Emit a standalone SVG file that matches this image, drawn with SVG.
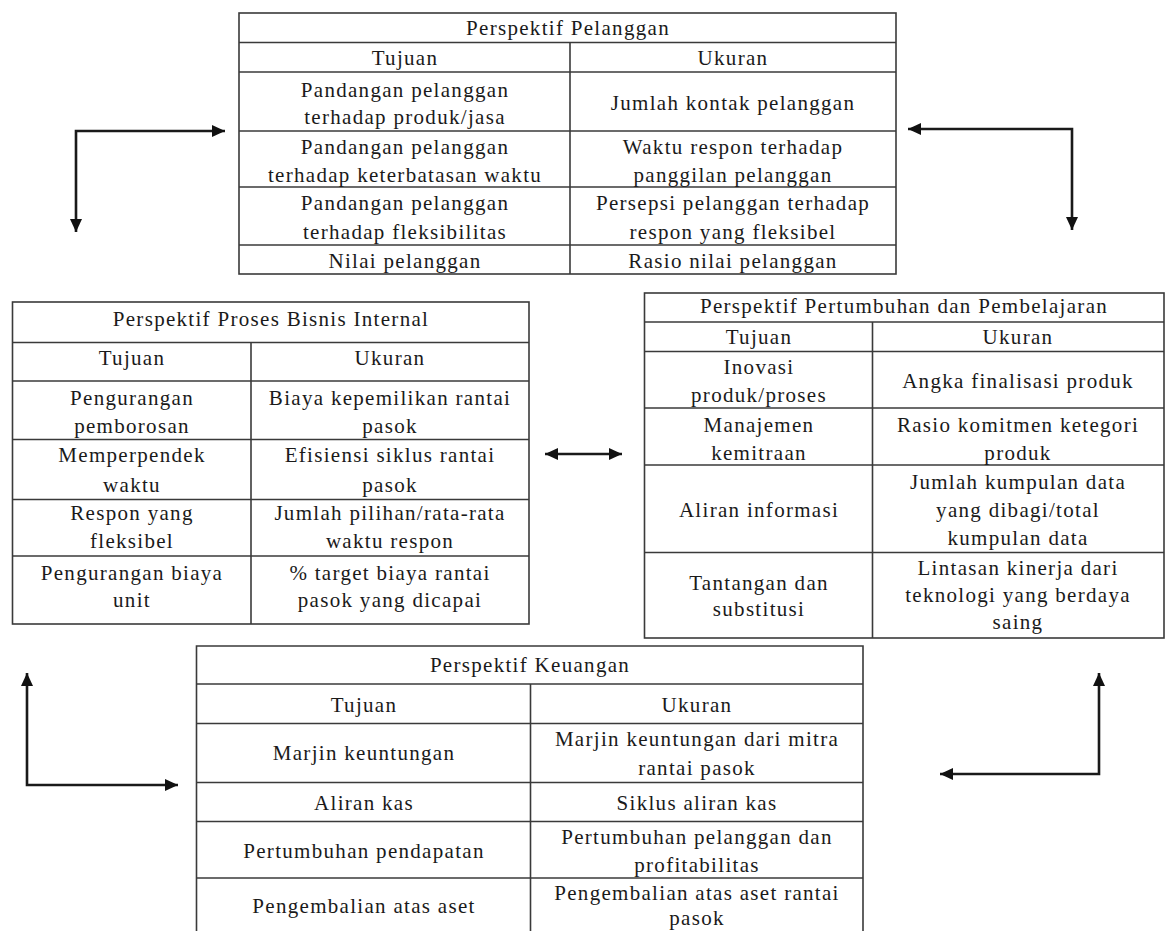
<svg xmlns="http://www.w3.org/2000/svg" width="1167" height="931" viewBox="0 0 1167 931">
<style>
.bg{fill:#ffffff}
.tb{fill:none;stroke:#3a3a3a;stroke-width:1.6}
.ln{stroke:#3a3a3a;stroke-width:1.6}
text{font-family:"Liberation Serif","Times New Roman",serif;font-size:21px;fill:#1a1a1a;text-anchor:middle;letter-spacing:1.3px}
.cn{fill:none;stroke:#1a1a1a;stroke-width:2.6;marker-start:url(#ah);marker-end:url(#ah)}
</style>
<defs>
<marker id="ah" viewBox="0 0 13 12" refX="13" refY="6" markerWidth="13" markerHeight="12" markerUnits="userSpaceOnUse" orient="auto-start-reverse">
<path d="M0,0 L13,6 L0,12 z" fill="#111"/>
</marker>
</defs>
<rect class="bg" x="0" y="0" width="1167" height="931"/>

<g id="pelanggan">
<rect class="tb" x="239" y="13" width="657" height="261"/>
<line class="ln" x1="239" y1="42.5" x2="896" y2="42.5"/>
<line class="ln" x1="239" y1="72" x2="896" y2="72"/>
<line class="ln" x1="239" y1="131" x2="896" y2="131"/>
<line class="ln" x1="239" y1="187" x2="896" y2="187"/>
<line class="ln" x1="239" y1="245" x2="896" y2="245"/>
<line class="ln" x1="570" y1="42.5" x2="570" y2="274"/>
<text x="568" y="35">Perspektif Pelanggan</text>
<text x="405" y="65">Tujuan</text>
<text x="733" y="65">Ukuran</text>
<text x="405" y="97">Pandangan pelanggan</text>
<text x="405" y="124">terhadap produk/jasa</text>
<text x="733" y="110">Jumlah kontak pelanggan</text>
<text x="405" y="154">Pandangan pelanggan</text>
<text x="405" y="182">terhadap keterbatasan waktu</text>
<text x="733" y="154">Waktu respon terhadap</text>
<text x="733" y="182">panggilan pelanggan</text>
<text x="405" y="210">Pandangan pelanggan</text>
<text x="405" y="239">terhadap fleksibilitas</text>
<text x="733" y="210">Persepsi pelanggan terhadap</text>
<text x="733" y="239">respon yang fleksibel</text>
<text x="405" y="268">Nilai pelanggan</text>
<text x="733" y="268">Rasio nilai pelanggan</text>
</g>

<g id="proses-bisnis-internal">
<rect class="tb" x="12.5" y="302" width="516.5" height="322"/>
<line class="ln" x1="12.5" y1="342.5" x2="529" y2="342.5"/>
<line class="ln" x1="12.5" y1="381" x2="529" y2="381"/>
<line class="ln" x1="12.5" y1="439.5" x2="529" y2="439.5"/>
<line class="ln" x1="12.5" y1="499.5" x2="529" y2="499.5"/>
<line class="ln" x1="12.5" y1="556" x2="529" y2="556"/>
<line class="ln" x1="251" y1="342.5" x2="251" y2="624"/>
<text x="271" y="326">Perspektif Proses Bisnis Internal</text>
<text x="132" y="365">Tujuan</text>
<text x="390" y="365">Ukuran</text>
<text x="132" y="405">Pengurangan</text>
<text x="132" y="433">pemborosan</text>
<text x="390" y="405">Biaya kepemilikan rantai</text>
<text x="390" y="433">pasok</text>
<text x="132" y="462">Memperpendek</text>
<text x="132" y="492">waktu</text>
<text x="390" y="462">Efisiensi siklus rantai</text>
<text x="390" y="492">pasok</text>
<text x="132" y="520">Respon yang</text>
<text x="132" y="548">fleksibel</text>
<text x="390" y="520">Jumlah pilihan/rata-rata</text>
<text x="390" y="548">waktu respon</text>
<text x="132" y="580">Pengurangan biaya</text>
<text x="132" y="607">unit</text>
<text x="390" y="580">% target biaya rantai</text>
<text x="390" y="607">pasok yang dicapai</text>
</g>

<g id="pertumbuhan-pembelajaran">
<rect class="tb" x="644.5" y="293" width="519.5" height="345"/>
<line class="ln" x1="644.5" y1="322" x2="1164" y2="322"/>
<line class="ln" x1="644.5" y1="351.5" x2="1164" y2="351.5"/>
<line class="ln" x1="644.5" y1="408" x2="1164" y2="408"/>
<line class="ln" x1="644.5" y1="465" x2="1164" y2="465"/>
<line class="ln" x1="644.5" y1="552.5" x2="1164" y2="552.5"/>
<line class="ln" x1="872.5" y1="322" x2="872.5" y2="638"/>
<text x="904" y="313">Perspektif Pertumbuhan dan Pembelajaran</text>
<text x="759" y="344">Tujuan</text>
<text x="1018" y="344">Ukuran</text>
<text x="759" y="374">Inovasi</text>
<text x="759" y="402">produk/proses</text>
<text x="1018" y="388">Angka finalisasi produk</text>
<text x="759" y="432">Manajemen</text>
<text x="759" y="460">kemitraan</text>
<text x="1018" y="432">Rasio komitmen ketegori</text>
<text x="1018" y="460">produk</text>
<text x="759" y="517">Aliran informasi</text>
<text x="1018" y="489">Jumlah kumpulan data</text>
<text x="1018" y="517">yang dibagi/total</text>
<text x="1018" y="545">kumpulan data</text>
<text x="759" y="590">Tantangan dan</text>
<text x="759" y="616">substitusi</text>
<text x="1018" y="575">Lintasan kinerja dari</text>
<text x="1018" y="602">teknologi yang berdaya</text>
<text x="1018" y="629">saing</text>
</g>

<g id="keuangan">
<path class="tb" d="M196.5,935 V646 H863 V935"/>
<line class="ln" x1="196.5" y1="684" x2="863" y2="684"/>
<line class="ln" x1="196.5" y1="723.5" x2="863" y2="723.5"/>
<line class="ln" x1="196.5" y1="782.5" x2="863" y2="782.5"/>
<line class="ln" x1="196.5" y1="821.5" x2="863" y2="821.5"/>
<line class="ln" x1="196.5" y1="878" x2="863" y2="878"/>
<line class="ln" x1="530.5" y1="684" x2="530.5" y2="935"/>
<text x="530" y="672">Perspektif Keuangan</text>
<text x="364" y="712">Tujuan</text>
<text x="697" y="712">Ukuran</text>
<text x="364" y="760">Marjin keuntungan</text>
<text x="697" y="746">Marjin keuntungan dari mitra</text>
<text x="697" y="775">rantai pasok</text>
<text x="364" y="810">Aliran kas</text>
<text x="697" y="810">Siklus aliran kas</text>
<text x="364" y="858">Pertumbuhan pendapatan</text>
<text x="697" y="844">Pertumbuhan pelanggan dan</text>
<text x="697" y="872">profitabilitas</text>
<text x="364" y="913">Pengembalian atas aset</text>
<text x="697" y="900">Pengembalian atas aset rantai</text>
<text x="697" y="925">pasok</text>
</g>

<g id="connectors">
<path class="cn" d="M225,131 H76 V232"/>
<path class="cn" d="M908,129 H1072 V230"/>
<path class="cn" d="M545,454 H622"/>
<path class="cn" d="M27,673 V785 H178"/>
<path class="cn" d="M1099,673 V774 H940"/>
</g>
</svg>
